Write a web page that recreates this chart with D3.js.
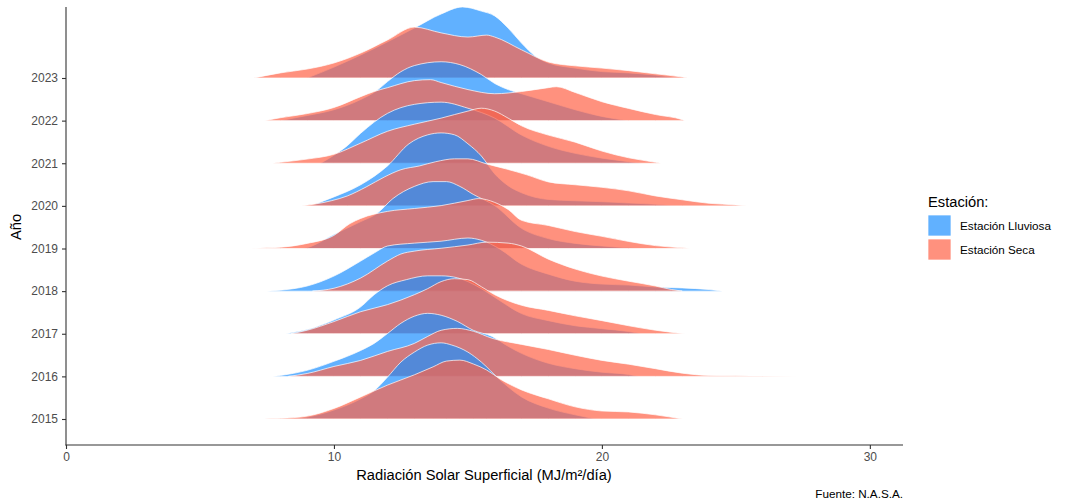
<!DOCTYPE html>
<html>
<head>
<meta charset="utf-8">
<script src="https://cdn.jsdelivr.net/npm/d3@7"></script>
<style>
  body { margin: 0; background: #fff; }
  svg { font-family: "Liberation Sans", Arial, sans-serif; }
  .tick text { fill: #4d4d4d; font-size: 12px; }
  .tick line { stroke: #333; }
</style>
</head>
<body>
<div id="chart"></div>
<script>
const years = [2015, 2016, 2017, 2018, 2019, 2020, 2021, 2022, 2023];
const xTicks = [0, 10, 20, 30];
const seasons = ['Estación Lluviosa', 'Estación Seca'];
const seasonColors = ['#1e90ff', '#ff6347'];

// densidad (% por MJ/m²/día), un arreglo por año
const lluviosa = [
  [[8.5,0],[9,0.6],[10,2.8],[11,6.3],[11.5,8.8],[12,13.1],[12.5,17.8],[13,20.9],[13.5,23.1],[14,23.8],[14.4,23.1],[15,20.9],[15.5,17.8],[16.2,12.2],[17,6.9],[18,3.4],[19,1.3],[19.8,0]],
  [[7.7,0],[8,0.3],[9,1.9],[10,4.7],[11,8.1],[11.5,10.3],[12,13.4],[12.5,16.6],[13,18.8],[13.5,19.7],[14,19.1],[14.6,17.2],[15.2,14.4],[15.9,12.5],[16.5,9.4],[17,7.2],[18,4.1],[19,2.4],[20,1.3],[21,0.6],[21.4,0]],
  [[8.2,0],[9,1.3],[10,4.3],[11,8.4],[11.5,12.2],[12,15.0],[12.7,16.9],[13.5,18.1],[14,18.1],[14.6,17.5],[15,16.3],[15.5,14.1],[16.2,10.3],[17,6.3],[18,4.1],[19,2.5],[20,1.6],[21,0.7],[21.5,0]],
  [[7.5,0],[8,0.3],[9,1.6],[10,4.7],[11,9.4],[11.5,11.9],[12,14.1],[13,15.0],[14,15.6],[15,16.6],[15.5,15.9],[16.2,13.1],[17,8.4],[18,5.3],[19,3.1],[20,2.2],[21,1.9],[22,1.3],[23,1.0],[24,0.5],[24.5,0]],
  [[8.8,0],[9,0.3],[10,4.4],[11,8.4],[11.6,10.9],[12.2,15.6],[13,19.4],[13.7,20.9],[14.2,20.9],[14.7,19.4],[15.2,16.9],[16,13.4],[17,6.3],[18,3.1],[19,1.6],[20,0.8],[21,0.2],[21.5,0]],
  [[9.1,0],[10,2.8],[11,6.6],[12,12.5],[12.8,19.4],[13.5,22.2],[14,22.8],[14.5,22.2],[15,19.4],[15.5,15.6],[16,10.0],[16.5,6.3],[17,4.1],[18,2.0],[19,1.6],[20,1.3],[21,0.9],[22,0.5],[22.8,0]],
  [[9.5,0],[10,2.5],[10.5,5.5],[11,9.4],[12,15.6],[13,18.4],[14,19.1],[15,17.2],[16,14.1],[17,8.8],[18,5.3],[19,3.1],[20,1.6],[21,0.5],[21.5,0]],
  [[8,0],[9,1.6],[10,3.4],[11,6.6],[11.6,9.4],[12,12.2],[12.5,15.3],[13,17.2],[14,18.4],[14.7,17.5],[15.5,14.4],[16,11.6],[16.5,9.7],[17,8.4],[18,5.9],[19,3.4],[20,1.3],[21,0]],
  [[9,0],[10,3.4],[11,7.2],[12,11.3],[13,15.6],[14,20.0],[14.8,22.2],[15.5,20.9],[16,19.4],[16.5,15.6],[17,10.9],[17.5,6.9],[18,4.7],[19,3.1],[20,2.0],[21,1.6],[22,0.9],[22.8,0]]
];

const seca = [
  [[7.4,0],[8,0.2],[9,0.9],[10,3.3],[11,6.9],[12,10.6],[13,13.8],[13.7,16.3],[14.2,18.1],[14.7,18.4],[15.2,17.2],[15.7,15.3],[16.2,12.5],[17,9.1],[18,6.3],[19,3.8],[20,2.5],[21,2.2],[22,1.3],[23,0]],
  [[8.3,0],[9,0.9],[10,3.1],[11,5.0],[12,7.8],[13,10.3],[13.5,12.5],[14,14.4],[14.6,15.0],[15.2,14.1],[15.9,11.9],[17,10.0],[18,8.4],[19,6.6],[20,5.0],[21,3.8],[22,2.4],[23,1.0],[24,0.3],[25,0.2],[26,0.1],[27.3,0]],
  [[8.4,0],[9,1.1],[10,3.8],[11,6.9],[12,9.1],[13,12.2],[13.5,14.1],[14,16.3],[14.5,17.2],[15,16.9],[15.5,14.7],[16,12.2],[17,8.9],[18,7.3],[19,5.6],[20,4.1],[21,2.5],[22,1.1],[23.1,0]],
  [[9.2,0],[10,0.9],[11,4.1],[12,9.4],[12.5,11.6],[13,12.5],[14,13.4],[15,14.4],[15.7,15.3],[16.5,15.0],[17,14.1],[18,10.0],[19,6.9],[20,4.7],[21,3.1],[22,1.6],[22.6,0.5],[23,0]],
  [[6.9,0],[7.5,0.2],[8,0.4],[9,1.6],[10,4.1],[10.6,7.8],[11,9.4],[12,11.6],[13,12.5],[14,13.4],[15,15.0],[15.4,15.6],[16,14.4],[16.5,12.2],[17,8.8],[18,7.2],[19,5.3],[20,3.8],[21,2.2],[22,0.9],[23,0.2],[23.3,0]],
  [[8.8,0],[9.9,1.6],[10.5,3.1],[11.2,5.9],[11.9,9.1],[12.5,11.3],[13.2,12.5],[13.8,13.8],[14.5,14.7],[15,14.7],[15.7,13.1],[16.4,11.6],[17.2,9.7],[18,7.5],[19,6.6],[20,5.8],[21,4.7],[22,3.1],[23,1.9],[24,0.8],[25,0.3],[25.4,0]],
  [[7.7,0],[8,0.3],[9,1.3],[10,2.8],[11,6.3],[12,10.0],[13,12.2],[14,14.1],[15,16.3],[15.5,17.2],[16,16.3],[16.5,14.1],[17,11.7],[18,8.8],[19,6.6],[20,3.8],[21,1.7],[22,0.3],[22.2,0]],
  [[7.4,0],[8,0.9],[9,2.2],[10,4.1],[11,7.5],[11.5,9.1],[12,10.3],[13,12.5],[13.6,12.8],[14,11.9],[15,9.7],[16,8.4],[17,9.1],[18,10.3],[18.3,10.6],[19,8.8],[20,5.9],[21,3.8],[22,1.9],[23,0.3],[23.1,0]],
  [[7,0],[8,1.6],[9,2.8],[10,4.7],[11,7.8],[12,11.9],[13,15.9],[14,14.1],[15,12.8],[15.7,13.4],[16,12.8],[17,8.8],[18,5.0],[19,3.8],[20,3.1],[21,2.3],[22,1.3],[23,0.3],[23.2,0]]
];

class RidgePlot {

  constructor(_config) {
    this.config = {
      parentElement: _config.parentElement,
      width: 1070,
      height: 503
    }
    this.initVis();
  }

  initVis() {
    let vis = this;

    vis.svg = d3.select(vis.config.parentElement).append('svg')
      .attr('width', vis.config.width)
      .attr('height', vis.config.height);

    vis.xScale = d3.scaleLinear().domain([0, 31.2]).range([66, 902]);
    vis.yScale = d3.scalePoint().domain(years).range([419, 78]);
    // alto de cada cresta
    vis.hScale = d3.scaleLinear().domain([0, 25]).range([0, 80]);

    vis.updateVis();
  }

  updateVis() {
    let vis = this;

    // de arriba hacia abajo, asi las filas de abajo quedan delante
    const rows = [];
    years.slice().reverse().forEach(yr => {
      const i = years.indexOf(yr);
      rows.push({ year: yr, season: 0, values: lluviosa[i] });
      rows.push({ year: yr, season: 1, values: seca[i] });
    });

    const area = d => d3.area()
      .curve(d3.curveMonotoneX)
      .x(p => vis.xScale(p[0]))
      .y0(vis.yScale(d.year))
      .y1(p => vis.yScale(d.year) - vis.hScale(p[1]))(d.values);

    vis.svg.append('g').selectAll('path')
      .data(rows)
      .join('path')
        .attr('d', area)
        .attr('fill', d => seasonColors[d.season])
        .attr('fill-opacity', 0.7)
        .attr('stroke', 'white')
        .attr('stroke-width', 0.7);

    // ejes
    const yAxis = vis.svg.append('g')
      .attr('transform', 'translate(66,0)')
      .call(d3.axisLeft(vis.yScale).tickSize(4).tickPadding(4));
    yAxis.select('.domain').remove();

    const xAxis = vis.svg.append('g')
      .attr('transform', 'translate(0,445)')
      .call(d3.axisBottom(vis.xScale).tickValues(xTicks).tickSize(4).tickPadding(3));
    xAxis.select('.domain').remove();

    vis.svg.selectAll('.tick line').attr('stroke-width', 1.1);

    vis.svg.append('line')
      .attr('x1', 66).attr('x2', 66).attr('y1', 7).attr('y2', 445.5)
      .attr('stroke', '#333').attr('stroke-width', 1.1);
    vis.svg.append('line')
      .attr('x1', 65.5).attr('x2', 903).attr('y1', 445).attr('y2', 445)
      .attr('stroke', '#333').attr('stroke-width', 1.1);

    vis.svg.append('text')
      .attr('x', 484).attr('y', 480)
      .attr('text-anchor', 'middle')
      .style('font-size', '14.7px')
      .text('Radiación Solar Superficial (MJ/m²/día)');

    vis.svg.append('text')
      .attr('transform', 'translate(21,227) rotate(-90)')
      .attr('text-anchor', 'middle')
      .style('font-size', '14.7px')
      .text('Año');

    vis.svg.append('text')
      .attr('x', 903).attr('y', 498)
      .attr('text-anchor', 'end')
      .style('font-size', '11.7px')
      .text('Fuente: N.A.S.A.');

    // leyenda
    const legend = vis.svg.append('g').attr('transform', 'translate(928,0)');
    legend.append('text')
      .attr('x', 0).attr('y', 207)
      .style('font-size', '14.7px')
      .text('Estación:');
    const keys = legend.selectAll('.key')
      .data(seasons)
      .join('g')
        .attr('class', 'key')
        .attr('transform', (d, i) => `translate(0,${215 + i * 24})`);
    keys.append('rect')
      .attr('width', 23).attr('height', 21)
      .attr('fill', (d, i) => seasonColors[i])
      .attr('fill-opacity', 0.7)
      .attr('stroke', 'white')
      .attr('stroke-width', 0.7);
    keys.append('text')
      .attr('x', 32).attr('y', 11)
      .attr('dy', '0.35em')
      .style('font-size', '11.7px')
      .text(d => d);
  }
}

new RidgePlot({ parentElement: '#chart' });
</script>
</body>
</html>
